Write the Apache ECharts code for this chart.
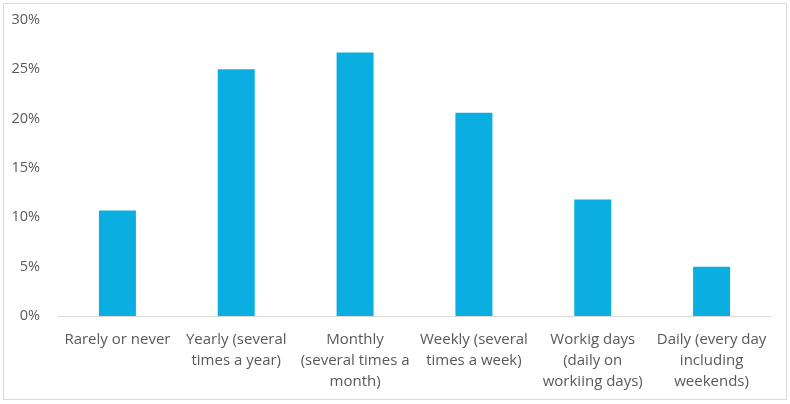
<!DOCTYPE html>
<html>
<head>
<meta charset="utf-8">
<script src="https://cdn.jsdelivr.net/npm/echarts@6/dist/echarts.min.js"></script>
<style>
  html, body { margin: 0; padding: 0; background: #fff; }
  #main { width: 790px; height: 404px; }
</style>
</head>
<body>
<div id="main"></div>
<script>
// categories (line breaks as in the picture)
var categories = [
    'Rarely or never',
    'Yearly (several\ntimes a year)',
    'Monthly\n(several times a\nmonth)',
    'Weekly (several\ntimes a week)',
    'Workig days\n(daily on\nworkiing days)',
    'Daily (every day\nincluding\nweekends)'
];
// share of respondents, in %
var shares = [10.7, 25.0, 26.7, 20.6, 11.8, 5.0];

var myChart = echarts.init(document.getElementById('main'));

var option = {
    animation: false,
    backgroundColor: '#fff',
    graphic: [{
        type: 'rect',
        shape: { x: 3.5, y: 3.5, width: 783, height: 396 },
        style: { fill: 'none', stroke: '#d9d9d9', lineWidth: 1 },
        silent: true
    }],
    grid: { left: 58, right: 19, top: 20, bottom: 88 },
    xAxis: {
        type: 'category',
        data: categories,
        axisLine: { lineStyle: { color: '#d9d9d9', width: 1 } },
        axisTick: { show: false },
        axisLabel: {
            interval: 0,
            color: '#595959',
            fontFamily: 'Open Sans',
            fontSize: 15,
            lineHeight: 21,
            margin: 13
        }
    },
    yAxis: {
        type: 'value',
        min: 0,
        max: 30,
        interval: 5,
        splitLine: { show: false },
        axisLine: { show: false },
        axisTick: { show: false },
        axisLabel: {
            formatter: '{value}%',
            color: '#595959',
            fontFamily: 'Open Sans',
            fontSize: 14.5,
            margin: 18
        }
    },
    series: [{
        type: 'bar',
        data: shares,
        barWidth: 37,
        itemStyle: { color: '#0aaee0' }
    }]
};

myChart.setOption(option);
</script>
</body>
</html>
